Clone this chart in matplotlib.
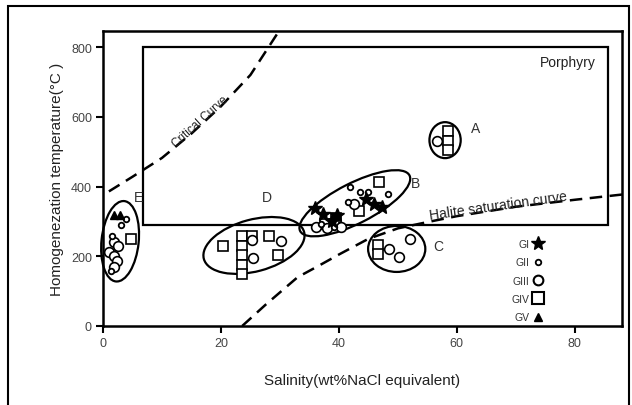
import matplotlib

matplotlib.use("Agg")
import matplotlib.pyplot as plt
from matplotlib.lines import Line2D
from matplotlib.patches import Ellipse, Rectangle
from matplotlib.transforms import Affine2D

plt.rcParams["font.family"] = ["Liberation Sans", "DejaVu Sans"]

# inclusion groups: salinity (wt% NaCl eq.) and homogenization temperature (C)
gi_sal = [36.0, 37.3, 38.8, 44.6, 45.9, 47.3, 39.6]
gi_temp = [338, 320, 300, 365, 350, 340, 318]

gii_sal = [41.8, 43.6, 44.9, 48.3, 41.5, 37.0, 39.2, 3.9, 3.0, 1.5, 1.3]
gii_temp = [400, 383, 383, 378, 356, 292, 284, 308, 291, 258, 158]

giii_sal = [25.3, 25.5, 30.1, 48.5, 50.2, 52.0, 1.9, 2.5, 1.0, 1.8, 2.3, 1.8,
            56.6, 36.2, 38.0, 40.3, 42.6]
giii_temp = [246, 194, 243, 220, 197, 249, 240, 228, 213, 200, 186, 170,
             531, 284, 282, 284, 350]

giv_sal = [58.5, 58.5, 58.5, 46.8, 43.4, 39.5, 37.6, 39.2, 46.6, 46.6,
           20.3, 23.5, 23.5, 23.5, 23.5, 23.5, 25.3, 28.1, 29.7, 4.7]
giv_temp = [560, 531, 504, 414, 329, 311, 292, 292, 231, 206,
            229, 258, 229, 203, 175, 148, 257, 257, 203, 250]

gv_sal = [1.9, 2.8]
gv_temp = [318, 318]

# reference curves
critical_sal = [1, 5, 10, 15, 20, 25, 30]
critical_temp = [386, 428, 482, 552, 630, 720, 850]

halite_sal = [23.6, 27.5, 33, 36.5, 40, 45, 50, 55, 60, 70, 80, 88]
halite_temp = [0, 60, 140, 172, 205, 250, 280, 298, 315, 342, 362, 377]

# porphyry field (salinity min/max, temperature min/max)
porphyry_sal = [6.8, 85.6]
porphyry_temp = [290, 800]

# cluster outlines: label, centre salinity, centre temp, width, height, angle
clusters = [
    ("A", 58.0, 533, 5.3, 6.1, 0),
    ("B", 42.7, 352, 20.8, 6.8, 27),
    ("C", 49.8, 221, 9.7, 7.8, 0),
    ("D", 25.6, 231, 17.6, 8.8, 15),
    ("E", 2.9, 243, 13.7, 6.3, 84),
]
label_pos = {"A": (63.2, 569), "B": (53.0, 411), "C": (56.9, 229),
             "D": (27.8, 371), "E": (6.1, 369)}

XMAX = 88
YMAX = 846

fig = plt.figure(figsize=(6.32, 4.06), dpi=100)
ax = fig.add_axes([103 / 632, 1 - 327 / 406, 519 / 632, 295 / 406])
ax.set_xlim(0, XMAX)
ax.set_ylim(0, YMAX)

# outer frame around the whole figure
fig.patches.append(Rectangle((8 / 632, -0.05), 621 / 632, 1.05 - 7 / 406,
                             transform=fig.transFigure, fill=False,
                             edgecolor="black", linewidth=1.5))

# make ellipses look right on unequal axis scales
k = (YMAX / 295) / (XMAX / 519)
etrans = Affine2D().scale(1, k) + ax.transData

ax.add_patch(Rectangle((porphyry_sal[0], porphyry_temp[0]),
                       porphyry_sal[1] - porphyry_sal[0],
                       porphyry_temp[1] - porphyry_temp[0],
                       fill=False, edgecolor="black", linewidth=1.6, zorder=2))
ax.text(83.6, 757, "Porphyry", ha="right", va="center", fontsize=10, color="#222")

ax.plot(critical_sal, critical_temp, color="black", linestyle=(0, (5, 3)),
        linewidth=1.8, zorder=2, clip_on=True)
ax.plot(halite_sal, halite_temp, color="black", linestyle=(0, (5, 3)),
        linewidth=1.8, zorder=2)
ax.text(16.4, 588, "Critical Curve", rotation=42, ha="center", va="center",
        fontsize=8.5, color="#222")
ax.text(67.0, 347, "Halite saturation curve", rotation=8, ha="center",
        va="center", fontsize=10, color="#222")

for name, cx, cy, w, h, ang in clusters:
    ax.add_patch(Ellipse((cx, cy / k), w, h, angle=ang, transform=etrans,
                         fill=False, edgecolor="black", linewidth=1.6,
                         zorder=3, clip_on=False))
    lx, ly = label_pos[name]
    ax.text(lx, ly, name, ha="center", va="center", fontsize=10, color="#333")

ax.plot(giv_sal, giv_temp, "s", ms=7.5, mfc="white", mec="black", mew=1.2,
        zorder=4, label="GIV")
ax.plot(giii_sal, giii_temp, "o", ms=7, mfc="white", mec="black", mew=1.2,
        zorder=5, label="GIII")
ax.plot(gii_sal, gii_temp, "o", ms=4, mfc="white", mec="black", mew=1.3,
        zorder=6, label="GII")
ax.plot(gi_sal, gi_temp, "*", ms=10, color="black", zorder=7, label="GI")
ax.plot(gv_sal, gv_temp, "^", ms=5.5, color="black", zorder=7, label="GV")

handles = [
    Line2D([], [], marker="*", ms=10, color="black", linestyle="none"),
    Line2D([], [], marker="o", ms=4, mfc="white", mec="black", mew=1.3, linestyle="none"),
    Line2D([], [], marker="o", ms=7, mfc="white", mec="black", mew=1.5, linestyle="none"),
    Line2D([], [], marker="s", ms=9, mfc="white", mec="black", mew=1.5, linestyle="none"),
    Line2D([], [], marker="^", ms=6, color="black", linestyle="none"),
]
ax.legend(handles, ["GI", "GII", "GIII", "GIV", "GV"], loc="upper right",
          bbox_to_anchor=(0.858, 0.313), frameon=False, markerfirst=False,
          fontsize=7.5, handlelength=1.0, handletextpad=0.3, labelspacing=0.8,
          borderpad=0, labelcolor="#333")

ax.set_xticks([0, 20, 40, 60, 80])
ax.set_yticks([0, 200, 400, 600, 800])
ax.tick_params(axis="both", direction="out", length=5, width=1.5,
               labelsize=9, labelcolor="#444", pad=3)
for sp in ax.spines.values():
    sp.set_linewidth(1.8)

ax.set_xlabel("Salinity(wt%NaCl equivalent)", fontsize=11, color="#222",
              labelpad=17)
ax.set_ylabel("Homogenezation temperature(°C )", fontsize=11, color="#222",
              labelpad=5)

fig.savefig("out.png", dpi=100)
